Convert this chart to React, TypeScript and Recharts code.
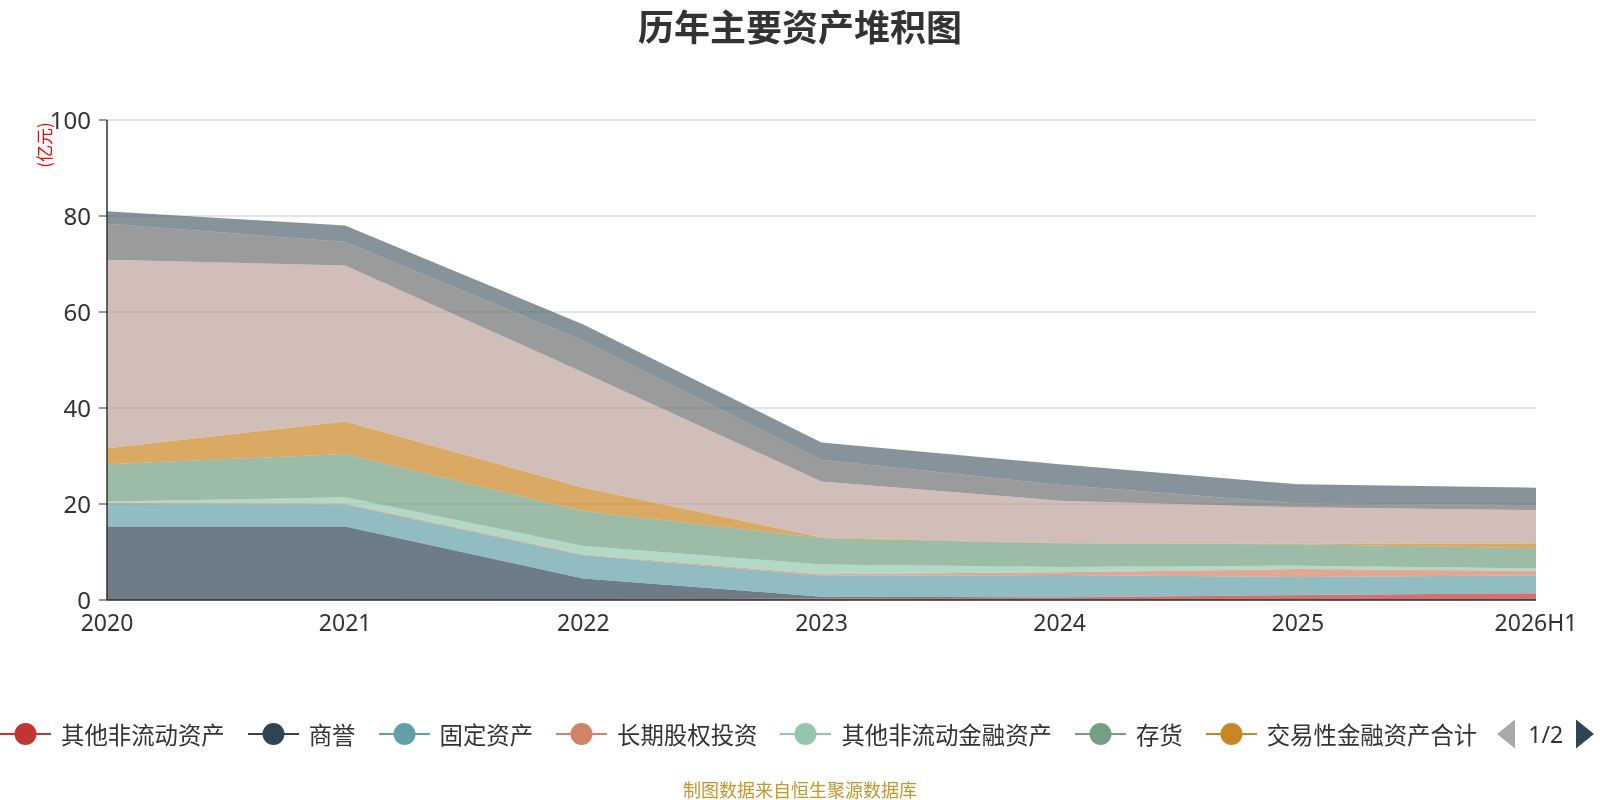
import React from "react";
import { Area, AreaChart, CartesianGrid, XAxis, YAxis } from "recharts";

// 单位：亿元
const years = ["2020", "2021", "2022", "2023", "2024", "2025", "2026H1"];
const otherNonCurrent = [0, 0, 0.05, 0.3, 0.5, 1.0, 1.4];
const goodwill = [15.3, 15.3, 4.45, 0.4, 0.05, 0.05, 0];
const fixedAssets = [4.7, 4.6, 4.8, 4.37, 4.65, 3.75, 3.7];
const longTermEquity = [0.2, 0.2, 0.2, 0.28, 0.6, 1.65, 1.0];
const otherNonCurrentFin = [0.3, 1.3, 1.75, 2.05, 1.1, 0.7, 0.5];
const inventory = [7.8, 9.0, 7.25, 5.5, 4.9, 4.45, 4.2];
const tradingFin = [3.3, 6.8, 4.9, 0.15, 0.05, 0.1, 1.0];
const cash = [39.3, 32.5, 24.0, 11.65, 8.85, 7.6, 6.95];
const receivables = [7.5, 4.9, 6.6, 4.5, 3.3, 0.8, 1.05];
const otherReceivables = [2.6, 3.4, 3.4, 3.6, 4.3, 4.0, 3.6];

const yTicks = [0, 20, 40, 60, 80, 100];

const series = [
  { key: "otherNonCurrent", name: "其他非流动资产", color: "#c23531", values: otherNonCurrent },
  { key: "goodwill", name: "商誉", color: "#2f4554", values: goodwill },
  { key: "fixedAssets", name: "固定资产", color: "#61a0a8", values: fixedAssets },
  { key: "longTermEquity", name: "长期股权投资", color: "#d48265", values: longTermEquity },
  { key: "otherNonCurrentFin", name: "其他非流动金融资产", color: "#91c7ae", values: otherNonCurrentFin },
  { key: "inventory", name: "存货", color: "#749f83", values: inventory },
  { key: "tradingFin", name: "交易性金融资产合计", color: "#ca8622", values: tradingFin },
  { key: "cash", name: "货币资金", color: "#bda29a", values: cash },
  { key: "receivables", name: "应收账款", color: "#6e7074", values: receivables },
  { key: "otherReceivables", name: "其他应收款", color: "#546570", values: otherReceivables },
];

const data = years.map((year, i) => {
  const row: Record<string, string | number> = { year };
  series.forEach((s) => {
    row[s.key] = s.values[i];
  });
  return row;
});

const FONT = '"Noto Sans", "Noto Sans CJK SC", sans-serif';
const CJK = '"Noto Sans CJK SC", "Noto Sans", sans-serif';

function LegendBar() {
  // 第 1 页只显示前 7 项
  const shown = series.slice(0, 7);
  return (
    <div
      style={{
        position: "absolute",
        left: 0,
        top: 719,
        height: 30,
        display: "flex",
        alignItems: "center",
        fontFamily: CJK,
      }}
    >
      {shown.map((s, i) => (
        <div
          key={s.key}
          style={{ display: "flex", alignItems: "center", marginRight: i === shown.length - 1 ? 20 : 23 }}
        >
          <svg width={51} height={26}>
            <line x1={0} y1={13} x2={51} y2={13} stroke={s.color} strokeWidth={2} />
            <circle cx={25.5} cy={13} r={11} fill={s.color} />
          </svg>
          <span style={{ marginLeft: 10, fontSize: 23.4, color: "#333", whiteSpace: "nowrap" }}>{s.name}</span>
        </div>
      ))}
      <svg width={18} height={30}>
        <polygon points="18,0.5 18,29.5 0,15" fill="#aaa" />
      </svg>
      <span style={{ fontSize: 23, color: "#333", margin: "0 13px", fontFamily: FONT }}>1/2</span>
      <svg width={18} height={30}>
        <polygon points="0,0.5 0,29.5 18,15" fill="#2f4554" />
      </svg>
    </div>
  );
}

export default function App() {
  return (
    <div style={{ position: "fixed", left: 0, top: 0, width: 1600, height: 800, background: "#fff" }}>
      <div
        style={{
          position: "absolute",
          top: 0,
          left: 0,
          width: 1600,
          height: 50,
          lineHeight: "50px",
          textAlign: "center",
          fontFamily: CJK,
          fontWeight: 700,
          fontSize: 36,
          color: "#333",
        }}
      >
        历年主要资产堆积图
      </div>

      <AreaChart
        width={1600}
        height={800}
        data={data}
        margin={{ top: 120, right: 64, bottom: 160, left: 47 }}
      >
        <CartesianGrid vertical={false} stroke="#ccc" strokeWidth={1.2} />
        <XAxis
          dataKey="year"
          height={40}
          interval={0}
          tickLine={false}
          axisLine={{ stroke: "#333", strokeWidth: 1.5 }}
          tick={{ fontSize: 23, fill: "#333", fontFamily: FONT }}
          tickMargin={9}
        />
        <YAxis
          width={60}
          domain={[0, 100]}
          ticks={yTicks}
          tickSize={8}
          tickMargin={8}
          axisLine={{ stroke: "#333", strokeWidth: 1.5 }}
          tickLine={{ stroke: "#333" }}
          tick={{ fontSize: 24, fill: "#333", fontFamily: FONT }}
        />
        {series.map((s) => (
          <Area
            key={s.key}
            type="linear"
            dataKey={s.key}
            name={s.name}
            stackId="assets"
            stroke="none"
            fill={s.color}
            fillOpacity={0.7}
            isAnimationActive={false}
          />
        ))}
      </AreaChart>

      <LegendBar />

      <div
        style={{
          position: "absolute",
          left: 44 - 30,
          top: 145 - 10,
          width: 60,
          height: 20,
          lineHeight: "20px",
          textAlign: "center",
          transform: "rotate(-90deg)",
          fontFamily: CJK,
          fontSize: 17,
          color: "red",
        }}
      >
        (亿元)
      </div>

      <div
        style={{
          position: "absolute",
          left: 0,
          top: 777,
          width: 1600,
          lineHeight: "24px",
          textAlign: "center",
          fontFamily: CJK,
          fontSize: 18,
          color: "#c8952a",
        }}
      >
        制图数据来自恒生聚源数据库
      </div>
    </div>
  );
}
